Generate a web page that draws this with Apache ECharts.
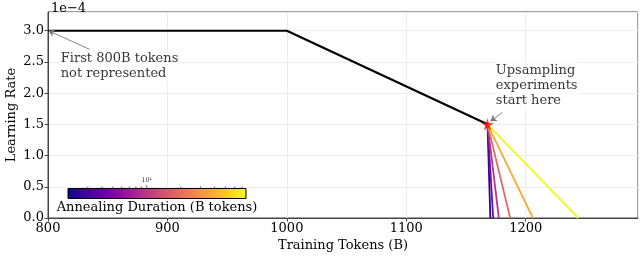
<!DOCTYPE html>
<html>
<head>
<meta charset="utf-8">
<script src="https://cdn.jsdelivr.net/npm/echarts@6/dist/echarts.min.js"></script>
<style>html,body{margin:0;padding:0;background:#fff}#c{width:640px;height:256px}</style>
</head>
<body>
<div id="c"></div>
<script>
// ---- data ----
var scheduleX = [800, 1000, 1168];
var scheduleY = [3.0, 3.0, 1.5];          // x 1e-4
var annealStart = [1168, 1.5];
var annealDurations = [2.375, 4.75, 9.5, 19, 38, 76]; // B tokens
var cbarMin = 2, cbarMax = 76;
var cbarMinorTicks = [3, 4, 5, 6, 7, 8, 9, 20, 30, 40, 50, 60, 70];
var cbarMajorTicks = [10];
var xTicks = [800, 900, 1000, 1100, 1200];
var yTicks = [0.0, 0.5, 1.0, 1.5, 2.0, 2.5, 3.0];

var plasma = ['#0d0887','#41049d','#6a00a8','#8f0da4','#b12a90','#cc4778','#e16462','#f2844b','#fca636','#fcce25','#f0f921'];
function hex2rgb(h){return [parseInt(h.substr(1,2),16),parseInt(h.substr(3,2),16),parseInt(h.substr(5,2),16)];}
function plasmaAt(t){
  t = Math.max(0, Math.min(1, t));
  var f = t * (plasma.length - 1), i = Math.floor(f), r = f - i;
  if (i >= plasma.length - 1) return plasma[plasma.length - 1];
  var a = hex2rgb(plasma[i]), b = hex2rgb(plasma[i+1]);
  var c = [0,1,2].map(function(k){return Math.round(a[k] + (b[k]-a[k]) * r);});
  return 'rgb(' + c.join(',') + ')';
}
function durColor(d){ return plasmaAt(Math.log(d / cbarMin) / Math.log(cbarMax / cbarMin)); }

var FONT = 'DejaVu Serif';
var TXT = '#000';
var chart = echarts.init(document.getElementById('c'), null, {renderer: 'canvas'});

var series = [];
series.push({
  type: 'line', xAxisIndex: 0, yAxisIndex: 0, symbol: 'none',
  data: scheduleX.map(function(x, i){ return [x, scheduleY[i]]; }),
  lineStyle: {color: '#000', width: 2.2}, z: 3
});
annealDurations.forEach(function(d){
  series.push({
    type: 'line', xAxisIndex: 0, yAxisIndex: 0, symbol: 'none',
    data: [annealStart, [annealStart[0] + d, 0]],
    lineStyle: {color: durColor(d), width: 1.8}, z: 4
  });
});
// star marker
series.push({
  type: 'scatter', xAxisIndex: 0, yAxisIndex: 0,
  symbol: 'path://M50,0 L61,35 L98,35 L68,57 L79,91 L50,70 L21,91 L32,57 L2,35 L39,35 Z',
  symbolSize: 12, itemStyle: {color: '#ff0000'},
  data: [annealStart], z: 6
});
// annotations
series.push({
  type: 'scatter', xAxisIndex: 0, yAxisIndex: 0, symbolSize: 0, z: 5,
  data: [
    {value: [809, 2.44], label: {formatter: 'First 800B tokens\nnot represented'}},
    {value: [1173.3, 2.12], label: {formatter: 'Upsampling\nexperiments\nstart here'}}
  ],
  label: {show: true, position: 'right', distance: 0, align: 'left', verticalAlign: 'middle',
    fontFamily: FONT, fontSize: 13, color: TXT, lineHeight: 15,
    backgroundColor: '#fff', padding: [1, 2]},
  markLine: {
    silent: true, animation: false,
    lineStyle: {color: '#777', width: 0.9, type: 'solid'},
    symbolSize: 6, label: {show: false},
    data: [
      [{coord: [835, 2.70], symbol: 'none'}, {coord: [800.5, 3.0], symbol: 'arrow'}],
      [{coord: [1180.5, 1.69], symbol: 'none'}, {coord: [1170.5, 1.55], symbol: 'arrow'}]
    ]
  }
});
// colorbar gradient
series.push({
  type: 'custom', xAxisIndex: 1, yAxisIndex: 1, z: 10,
  data: [[cbarMin, cbarMax]],
  renderItem: function(params, api){
    var p0 = api.coord([cbarMin, 0]), p1 = api.coord([cbarMax, 1]);
    var stops = plasma.map(function(c, i){ return {offset: i / (plasma.length - 1), color: c}; });
    return {type: 'rect', shape: {x: p0[0], y: p1[1], width: p1[0] - p0[0], height: p0[1] - p1[1]},
      style: {fill: new echarts.graphic.LinearGradient(0, 0, 1, 0, stops), stroke: '#000', lineWidth: 1}};
  }
});
// colorbar ticks
series.push({
  type: 'custom', xAxisIndex: 1, yAxisIndex: 1, z: 11,
  data: cbarMinorTicks.map(function(v){return [v, 0];}).concat(cbarMajorTicks.map(function(v){return [v, 1];})),
  renderItem: function(params, api){
    var v = api.value(0), major = api.value(1) === 1;
    var p = api.coord([v, 1]);
    var len = major ? 3.5 : 2;
    var children = [{type: 'line', shape: {x1: p[0], y1: p[1], x2: p[0], y2: p[1] - len},
      style: {stroke: '#444', lineWidth: 0.8}}];
    if (major) {
      children.push({type: 'text', x: p[0], y: p[1] - len - 1,
        style: {text: '10\u00b9', fontFamily: FONT, fontSize: 6.5, fill: '#333', align: 'center', verticalAlign: 'bottom'}});
    }
    return {type: 'group', children: children};
  }
});

chart.setOption({
  animation: false,
  backgroundColor: '#fff',
  title: {text: '1e\u22124', left: 46, top: -3, textStyle: {fontFamily: FONT, fontSize: 13, fontWeight: 'normal', color: TXT}},
  grid: [
    {left: 48, right: 2, top: 12, bottom: 38, show: true, borderColor: '#444', borderWidth: 1, backgroundColor: 'transparent',
     outerBoundsMode: 'none', containLabel: false},
    {left: 68, width: 178, top: 188.5, height: 10, outerBoundsMode: 'none', containLabel: false}
  ],
  xAxis: [
    {type: 'value', gridIndex: 0, min: 800, max: 1294, interval: 100,
     name: 'Training Tokens (B)', nameLocation: 'middle', nameGap: 21, nameMoveOverlap: false,
     nameTextStyle: {fontFamily: FONT, fontSize: 13, color: TXT},
     axisLine: {show: true, lineStyle: {color: '#444'}},
     axisTick: {show: true, length: 3.5, lineStyle: {color: '#444'}},
     axisLabel: {fontFamily: FONT, fontSize: 13, color: TXT, margin: 4, showMaxLabel: false,
       formatter: function(v){ return xTicks.indexOf(v) >= 0 ? String(v) : ''; }},
     splitLine: {show: true, lineStyle: {color: '#ececec', width: 1}}},
    {type: 'log', gridIndex: 1, min: cbarMin, max: cbarMax, logBase: 10,
     name: 'Annealing Duration (B tokens)', nameLocation: 'middle', nameGap: 3,
     nameTextStyle: {fontFamily: FONT, fontSize: 13, color: TXT, backgroundColor: '#fff', padding: [0, 2], verticalAlign: 'top'},
     axisLine: {show: false}, axisTick: {show: false}, axisLabel: {show: false}, splitLine: {show: false}}
  ],
  yAxis: [
    {type: 'value', gridIndex: 0, min: 0, max: 3.3, interval: 0.5,
     name: 'Learning Rate', nameLocation: 'middle', nameGap: 30, nameMoveOverlap: false,
     nameTextStyle: {fontFamily: FONT, fontSize: 13, color: TXT},
     axisLine: {show: true, lineStyle: {color: '#444'}},
     axisTick: {show: true, length: 3.5, lineStyle: {color: '#444'}},
     axisLabel: {fontFamily: FONT, fontSize: 13, color: TXT, margin: 4, showMaxLabel: false,
       formatter: function(v){ var r = Math.round(v * 10) / 10; return yTicks.indexOf(r) >= 0 && Math.abs(v - r) < 1e-9 ? r.toFixed(1) : ''; }},
     splitLine: {show: true, lineStyle: {color: '#ececec', width: 1}}},
    {type: 'value', gridIndex: 1, min: 0, max: 1, show: false}
  ],
  series: series
});
</script>
</body>
</html>
